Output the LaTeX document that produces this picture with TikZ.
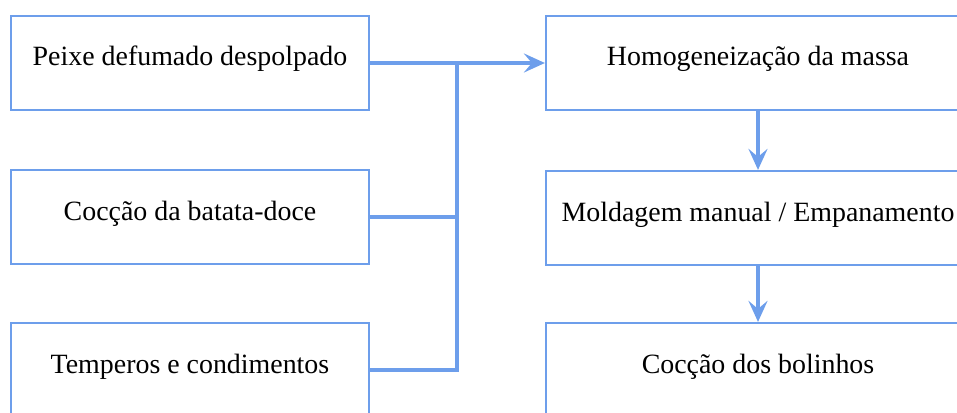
\documentclass[tikz,border=0pt]{standalone}
\usepackage{fontspec}
\setmainfont{Liberation Serif}
\usetikzlibrary{arrows.meta}
\definecolor{flowblue}{HTML}{6D9EEB}
\begin{document}
\begin{tikzpicture}[x=1pt,y=-1pt,
  stepbox/.style={draw=flowblue, line width=2.2pt, rectangle, fill=white,
    minimum height=94pt, text height=18pt, text depth=12pt, inner sep=0pt,
    font=\fontsize{27.9}{31}\selectfont, text=black},
  leftbox/.style={stepbox, minimum width=358pt},
  rightbox/.style={stepbox, minimum width=424pt},
  conn/.style={draw=flowblue, line width=3.5pt},
  tip/.style={-{Stealth[length=21pt, width=19pt, inset=8pt]}}]
\useasboundingbox (0,0) rectangle (957,412);
\node[leftbox] (p) at (190,63) {Peixe defumado despolpado};
\node[leftbox] (c) at (190,217) {Cocção da batata-doce};
\node[leftbox] (t) at (190,370) {Temperos e condimentos};
\node[rightbox] (h) at (758,63) {Homogeneização da massa};
\node[rightbox] (m) at (758,218) {Moldagem manual / Empanamento};
\node[rightbox] (b) at (758,370) {Cocção dos bolinhos};
\coordinate (j) at (457,63);
\draw[conn, tip] (p.east) -- (h.west);
\draw[conn] (c.east) -- (c.east -| j);
\draw[conn] (t.east) -| (j);
\draw[conn, tip] (h.south) -- (m.north);
\draw[conn, tip] (m.south) -- (b.north);
\end{tikzpicture}
\end{document}
